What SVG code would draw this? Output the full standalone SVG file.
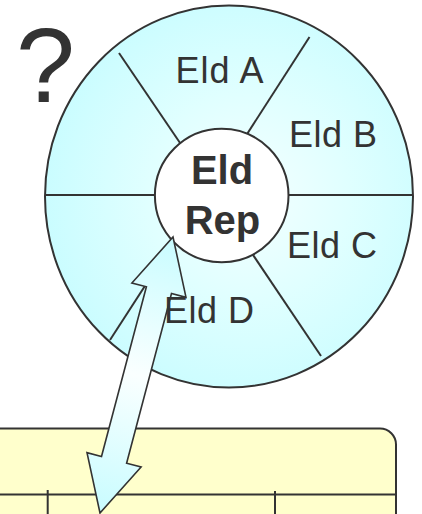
<svg xmlns="http://www.w3.org/2000/svg" width="422" height="514" viewBox="0 0 422 514">
  <defs>
    <radialGradient id="discFill" cx="0.55" cy="0.5" r="0.6">
      <stop offset="0" stop-color="#F4FFFF"/>
      <stop offset="0.45" stop-color="#E0FFFF"/>
      <stop offset="1" stop-color="#C6FCFF"/>
    </radialGradient>
    <linearGradient id="arrowFill" gradientUnits="userSpaceOnUse" x1="173" y1="237" x2="100" y2="513">
      <stop offset="0" stop-color="#C8FCFF"/>
      <stop offset="0.5" stop-color="#FAFFFF"/>
      <stop offset="1" stop-color="#C8FCFF"/>
    </linearGradient>
    <style>
      .edge { stroke: #333333; stroke-width: 2; fill: none; }
      .label { font-family: "Liberation Sans", Arial, sans-serif; font-size: 36px; fill: #333333; }
      .core { font-family: "Liberation Sans", Arial, sans-serif; font-size: 40px; font-weight: bold; fill: #333333; text-anchor: middle; }
    </style>
  </defs>

  <rect x="0" y="0" width="422" height="514" fill="#FFFFFF"/>

  <!-- question mark -->
  <g id="question">
    <text x="16" y="102" font-family="'Liberation Sans', Arial, sans-serif" font-size="106" fill="#333333">?</text>
  </g>

  <!-- segmented disc -->
  <g id="disc">
    <ellipse cx="229" cy="196.5" rx="184" ry="191" fill="url(#discFill)" stroke="#333333" stroke-width="2"/>
    <line class="edge" x1="45" y1="195" x2="190" y2="195"/>
    <line class="edge" x1="413" y1="195" x2="260" y2="195"/>
    <line class="edge" x1="119" y1="53" x2="195" y2="165"/>
    <line class="edge" x1="309.5" y1="37" x2="240" y2="145"/>
    <line class="edge" x1="321" y1="356" x2="245" y2="243"/>
    <line class="edge" x1="110" y1="340" x2="185" y2="224"/>
  </g>

  <g id="core">
    <circle cx="221.7" cy="195.5" r="66.8" fill="#FFFFFF" stroke="#333333" stroke-width="2"/>
    <text class="core" x="222" y="184">Eld</text>
    <text class="core" x="222.5" y="234">Rep</text>
  </g>

  <!-- repository table -->
  <g id="table">
    <rect x="-20" y="428.5" width="416" height="120" rx="16" ry="16" fill="#FFFFCC" stroke="#333333" stroke-width="2"/>
    <line class="edge" x1="0" y1="494.5" x2="396" y2="494.5"/>
    <line class="edge" x1="47.7" y1="490" x2="47.7" y2="514"/>
    <line class="edge" x1="275" y1="491" x2="275" y2="514"/>
  </g>

  <!-- connectors -->
  <g id="connectors">
    <polygon points="173,237 186,297.3 171.5,293.5 126.6,463.2 141.1,467 100,513 87,452.7 101.5,456.5 146.4,286.8 131.9,283" fill="url(#arrowFill)" stroke="#333333" stroke-width="1.6" stroke-linejoin="miter"/>
  </g>

  <g id="segment-a"><text class="label" x="175.5" y="82.5" textLength="88" lengthAdjust="spacing">Eld A</text></g>
  <g id="segment-b"><text class="label" x="289" y="146.7" textLength="88" lengthAdjust="spacing">Eld B</text></g>
  <g id="segment-c"><text class="label" x="287" y="258" textLength="90" lengthAdjust="spacing">Eld C</text></g>
  <g id="segment-d"><text class="label" x="164" y="323" textLength="90" lengthAdjust="spacing">Eld D</text></g>
</svg>
